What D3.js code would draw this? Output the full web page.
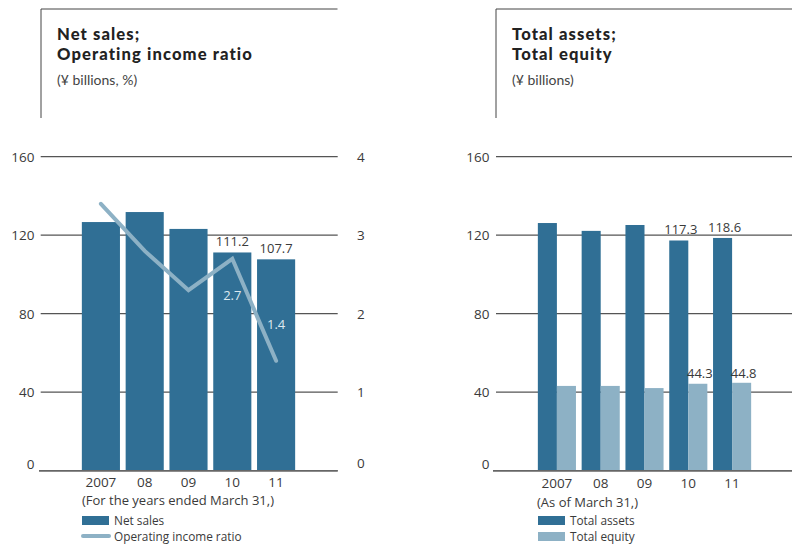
<!DOCTYPE html>
<html>
<head>
<meta charset="utf-8">
<script src="https://cdn.jsdelivr.net/npm/d3@7"></script>
<style>
  html, body { margin: 0; padding: 0; background: #fff; }
  svg { display: block; }
</style>
</head>
<body>
<svg id="chart" width="796" height="544"></svg>
<script>
// ---- Data ----
const years = ["2007", "08", "09", "10", "11"];
const netSales = [126.7, 131.8, 123.2, 111.2, 107.7];
const opIncomeRatio = [3.4, 2.8, 2.3, 2.7, 1.4];
const totalAssets = [126.2, 122.2, 125.2, 117.3, 118.6];
const totalEquity = [43.2, 43.2, 42.1, 44.3, 44.8];
const leftTicks = [0, 40, 80, 120, 160];
const rightTicks = [0, 1, 2, 3, 4];
const netSalesLabels = [null, null, null, "111.2", "107.7"];
const ratioLabels = [null, null, null, "2.7", "1.4"];
const assetsLabels = [null, null, null, "117.3", "118.6"];
const equityLabels = [null, null, null, "44.3", "44.8"];

// ---- Style ----
const darkBlue = "#306f95";
const lightBlue = "#8db1c5";
const gridCol = "#555555";
const textCol = "#3a3a3a";
const numFont = "'Open Sans', 'Noto Sans', sans-serif";
const titleFont = "Lato, 'Open Sans', sans-serif";
const subFont = "Lato, 'Open Sans', sans-serif";

const svg = d3.select("#chart");

const yTop = 156.7, yBot = 470.7;
const y = d3.scaleLinear().domain([0, 160]).range([yBot, yTop]);
const yR = d3.scaleLinear().domain([0, 4]).range([yBot, yTop]);

function titleBox(x0, x1, lines, sub) {
  svg.append("path")
    .attr("d", `M${x0},118 V9 H${x1}`)
    .attr("fill", "none").attr("stroke", "#444").attr("stroke-width", 1);
  lines.forEach((s, i) => {
    svg.append("text").attr("x", x0 + 16).attr("y", 39.5 + i * 20.2)
      .attr("font-family", titleFont).attr("font-weight", 900)
      .attr("font-size", 16.6).attr("letter-spacing", 1.1)
      .attr("fill", "#222").text(s);
  });
  svg.append("text").attr("x", x0 + 16).attr("y", 84.5)
    .attr("font-family", subFont).attr("font-size", 14)
    .attr("fill", "#444").text(sub);
}

function gridAndAxis(gx0, gx1, bx0, labelX) {
  const g = svg.append("g");
  leftTicks.forEach(t => {
    g.append("line")
      .attr("x1", t === 0 ? bx0 : gx0).attr("x2", gx1)
      .attr("y1", y(t)).attr("y2", y(t))
      .attr("stroke", t === 0 ? "#666" : gridCol).attr("stroke-width", t === 0 ? 1.5 : 1.2);
  });
  const ax = svg.append("g").attr("transform", `translate(${labelX},0)`)
    .call(d3.axisLeft(y).tickValues(leftTicks).tickSize(0).tickPadding(0));
  ax.select(".domain").remove();
  ax.selectAll("text").attr("font-family", numFont).attr("font-size", 13.5)
    .attr("fill", textCol).attr("dy", "0.32em")
    .attr("transform", d => d === 0 ? "translate(0,-7)" : null);
}

// ================= LEFT CHART =================
titleBox(41, 337.5, ["Net sales;", "Operating income ratio"], "(¥ billions, %)");
gridAndAxis(40.7, 337.7, 39, 34.5);

const axR = svg.append("g").attr("transform", "translate(357,0)")
  .call(d3.axisRight(yR).tickValues(rightTicks).tickSize(0).tickPadding(0).tickFormat(d3.format("d")));
axR.select(".domain").remove();
axR.selectAll("text").attr("font-family", numFont).attr("font-size", 13.5)
  .attr("fill", textCol).attr("dy", "0.32em")
  .attr("transform", d => d === 0 ? "translate(0,-8)" : null);

const xL = d3.scaleBand().domain(years).range([79, 298]).paddingInner(0.13).paddingOuter(0.065);

svg.append("g").selectAll("rect").data(years).join("rect")
  .attr("x", d => xL(d)).attr("width", xL.bandwidth())
  .attr("y", (d, i) => y(netSales[i]))
  .attr("height", (d, i) => y(0) - y(netSales[i]))
  .attr("fill", darkBlue);

svg.append("line").attr("x1", 39).attr("x2", 337.7).attr("y1", y(0)).attr("y2", y(0))
  .attr("stroke", "#666").attr("stroke-width", 1.5);

const line = d3.line()
  .x((d, i) => xL(years[i]) + xL.bandwidth() / 2)
  .y(d => yR(d));
svg.append("path").datum(opIncomeRatio).attr("d", line)
  .attr("fill", "none").attr("stroke", lightBlue).attr("stroke-width", 4)
  .attr("stroke-linecap", "round").attr("stroke-linejoin", "miter");

svg.append("g").selectAll("text").data(years).join("text")
  .filter((d, i) => netSalesLabels[i])
  .attr("x", d => xL(d) + xL.bandwidth() / 2)
  .attr("y", d => y(netSales[years.indexOf(d)]) - 6)
  .attr("text-anchor", "middle").attr("font-family", numFont).attr("font-size", 13)
  .attr("fill", textCol).text(d => netSalesLabels[years.indexOf(d)]);

svg.append("g").selectAll("text").data(years).join("text")
  .filter((d, i) => ratioLabels[i])
  .attr("x", d => xL(d) + xL.bandwidth() / 2)
  .attr("y", d => d === "10" ? 299.5 : 328.5)
  .attr("text-anchor", "middle").attr("font-family", numFont).attr("font-size", 13)
  .attr("fill", "#dde8ef").text(d => ratioLabels[years.indexOf(d)]);

svg.append("g").selectAll("text").data(years).join("text")
  .attr("x", d => xL(d) + xL.bandwidth() / 2).attr("y", 486.5)
  .attr("text-anchor", "middle").attr("font-family", numFont).attr("font-size", 13.5)
  .attr("fill", textCol).text(d => d);
svg.append("text").attr("x", 82).attr("y", 505)
  .attr("font-family", numFont).attr("font-size", 13).attr("fill", textCol)
  .text("(For the years ended March 31,)");

svg.append("rect").attr("x", 82).attr("y", 516).attr("width", 27).attr("height", 9).attr("fill", darkBlue);
svg.append("text").attr("x", 114).attr("y", 525).attr("font-family", numFont).attr("font-size", 11.8)
  .attr("fill", textCol).text("Net sales");
svg.append("line").attr("x1", 83).attr("x2", 109).attr("y1", 536).attr("y2", 536)
  .attr("stroke", lightBlue).attr("stroke-width", 4).attr("stroke-linecap", "round");
svg.append("text").attr("x", 114).attr("y", 541).attr("font-family", numFont).attr("font-size", 11.8)
  .attr("fill", textCol).text("Operating income ratio");

// ================= RIGHT CHART =================
titleBox(496, 792, ["Total assets;", "Total equity"], "(¥ billions)");
gridAndAxis(496, 792, 493, 489.5);

const xR = d3.scaleBand().domain(years).range([535, 754]).paddingInner(0.13).paddingOuter(0.065);
const xSub = d3.scaleBand().domain(["assets", "equity"]).range([0, xR.bandwidth()]);

const pairs = years.map((yr, i) => ({ yr, assets: totalAssets[i], equity: totalEquity[i], i }));
const gp = svg.append("g").selectAll("g").data(pairs).join("g")
  .attr("transform", d => `translate(${xR(d.yr)},0)`);
gp.append("rect").attr("x", xSub("assets")).attr("width", xSub.bandwidth())
  .attr("y", d => y(d.assets)).attr("height", d => y(0) - y(d.assets)).attr("fill", darkBlue);
gp.append("rect").attr("x", xSub("equity")).attr("width", xSub.bandwidth())
  .attr("y", d => y(d.equity)).attr("height", d => y(0) - y(d.equity)).attr("fill", lightBlue);

gp.filter(d => assetsLabels[d.i]).append("text")
  .attr("x", xSub("assets") + xSub.bandwidth() / 2 + 2).attr("y", d => y(d.assets) - 6)
  .attr("text-anchor", "middle").attr("font-family", numFont).attr("font-size", 13)
  .attr("fill", textCol).text(d => assetsLabels[d.i]);
gp.filter(d => equityLabels[d.i]).append("text")
  .attr("x", xSub("equity") + xSub.bandwidth() / 2 + 2).attr("y", d => y(d.equity) - 6 + (d.yr === "10" ? 0 : 1))
  .attr("text-anchor", "middle").attr("font-family", numFont).attr("font-size", 13)
  .attr("fill", textCol).text(d => equityLabels[d.i]);

svg.append("line").attr("x1", 493).attr("x2", 792).attr("y1", y(0)).attr("y2", y(0))
  .attr("stroke", "#666").attr("stroke-width", 1.5);

svg.append("g").selectAll("text").data(years).join("text")
  .attr("x", d => xR(d) + xR.bandwidth() / 2).attr("y", 487.5)
  .attr("text-anchor", "middle").attr("font-family", numFont).attr("font-size", 13.5)
  .attr("fill", textCol).text(d => d);
svg.append("text").attr("x", 537).attr("y", 506.5)
  .attr("font-family", numFont).attr("font-size", 13).attr("fill", textCol)
  .text("(As of March 31,)");

svg.append("rect").attr("x", 538).attr("y", 516).attr("width", 27).attr("height", 9).attr("fill", darkBlue);
svg.append("text").attr("x", 570).attr("y", 525).attr("font-family", numFont).attr("font-size", 11.8)
  .attr("fill", textCol).text("Total assets");
svg.append("rect").attr("x", 538).attr("y", 532).attr("width", 27).attr("height", 9).attr("fill", lightBlue);
svg.append("text").attr("x", 570).attr("y", 541).attr("font-family", numFont).attr("font-size", 11.8)
  .attr("fill", textCol).text("Total equity");
</script>
</body>
</html>
